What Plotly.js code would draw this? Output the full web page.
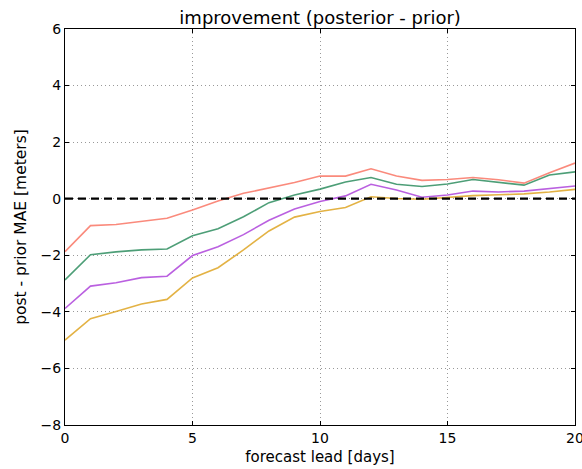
<!DOCTYPE html>
<html><head><meta charset="utf-8">
<script src="https://cdn.plot.ly/plotly-3.0.1.min.js"></script>
<style>html,body{margin:0;padding:0;background:#fff}#chart{width:582px;height:469px}</style>
</head><body><div id="chart"></div>
<script>
var leadDays = [0,1,2,3,4,5,6,7,8,9,10,11,12,13,14,15,16,17,18,19,20];
var seriesSalmon = [-1.87,-0.95,-0.91,-0.79,-0.69,-0.40,-0.08,0.19,0.39,0.57,0.80,0.80,1.06,0.80,0.65,0.68,0.75,0.67,0.55,0.92,1.26];
var seriesGreen  = [-2.87,-1.98,-1.88,-1.81,-1.78,-1.31,-1.06,-0.64,-0.14,0.13,0.34,0.59,0.75,0.51,0.43,0.52,0.68,0.57,0.48,0.84,0.95];
var seriesPurple = [-3.88,-3.09,-2.97,-2.79,-2.74,-2.01,-1.70,-1.27,-0.76,-0.36,-0.10,0.10,0.51,0.31,0.05,0.13,0.27,0.24,0.27,0.35,0.45];
var seriesOrange = [-5.00,-4.24,-3.99,-3.72,-3.56,-2.80,-2.44,-1.81,-1.14,-0.65,-0.45,-0.31,0.07,0.01,-0.02,0.05,0.11,0.14,0.17,0.24,0.33];
var xTicks = [0,5,10,15,20];
var yTicks = [-8,-6,-4,-2,0,2,4,6];

function tr(y, c){ return {x: leadDays, y: y, mode:'lines', line:{color:c, width:1.6}, opacity:0.9, hoverinfo:'skip'}; }
var data = [
  tr(seriesSalmon, '#fa7d6e'),
  tr(seriesGreen, '#3a9468'),
  tr(seriesPurple, '#b24fdd'),
  tr(seriesOrange, '#e0aa30')
];
var axisCommon = {
  showline:true, linecolor:'#000', linewidth:1, mirror:'ticks',
  ticks:'inside', ticklen:4, tickcolor:'#000', tickwidth:1,
  showgrid:true, gridcolor:'#999', griddash:'1px,3px', gridwidth:1,
  zeroline:false, tickfont:{size:14, color:'#000'}, ticklabeloverflow:'allow'
};
var layout = {
  width:582, height:469,
  margin:{l:65, r:7, t:29, b:44},
  paper_bgcolor:'#fff', plot_bgcolor:'#fff',
  font:{family:'DejaVu Sans, sans-serif', color:'#000'},
  showlegend:false,
  title:{text:'improvement (posterior - prior)', font:{size:18}, x:0.55, xanchor:'center', y:0.963, yanchor:'middle'},
  xaxis: Object.assign({}, axisCommon, {range:[0,20], tickvals:xTicks, ticktext:xTicks.map(String),
    title:{text:'forecast lead [days]', font:{size:15}, standoff:6}}),
  yaxis: Object.assign({}, axisCommon, {range:[-8,6], tickvals:yTicks,
    title:{text:'post - prior MAE [meters]', font:{size:15.5}, standoff:10}}),
  shapes:[{type:'line', xref:'paper', x0:0, x1:1, yref:'y', y0:0, y1:0,
    line:{color:'#000', width:2.2, dash:'8px,5px'}}]
};
Plotly.newPlot('chart', data, layout, {displayModeBar:false, staticPlot:true});
</script></body></html>
